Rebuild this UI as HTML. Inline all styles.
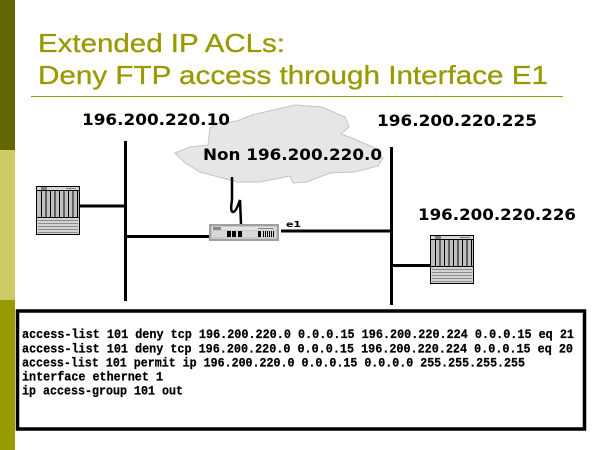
<!DOCTYPE html>
<html>
<head>
<meta charset="utf-8">
<style>
html,body{margin:0;padding:0;background:#fff;}
svg{display:block;}
</style>
</head>
<body>
<svg width="600" height="450" viewBox="0 0 600 450" xmlns="http://www.w3.org/2000/svg">
  <rect x="0" y="0" width="600" height="450" fill="#ffffff"/>
  <!-- sidebar -->
  <rect x="0" y="0" width="15" height="150" fill="#666600"/>
  <rect x="0" y="150" width="15" height="150" fill="#cccc66"/>
  <rect x="0" y="300" width="15" height="150" fill="#999900"/>

  <!-- title -->
  <text x="38" y="52" font-family="Liberation Sans, sans-serif" font-size="26" fill="#999900" stroke="#999900" stroke-width="0.3" textLength="247" lengthAdjust="spacingAndGlyphs">Extended IP ACLs:</text>
  <text x="38" y="84" font-family="Liberation Sans, sans-serif" font-size="26" fill="#999900" stroke="#999900" stroke-width="0.3" textLength="510" lengthAdjust="spacingAndGlyphs">Deny FTP access through Interface E1</text>
  <line x1="31" y1="96.5" x2="563" y2="96.5" stroke="#999900" stroke-width="1"/>

  <!-- cloud -->
  <polygon points="175,153 190,147 208,145 210,128 216,124 237,121 252,115 282,108 295,105 322,107 345,117 349,127 341,134 352,138 375,148 383,158 378,166 355,172 330,173 307,182 293,183 290,176 260,182 237,182 200,172 185,163" fill="#e6e6e6" stroke="#c4c4c4" stroke-width="1"/>

  <!-- labels -->
  <g font-family="DejaVu Sans, sans-serif" font-weight="bold" font-size="16" fill="#000">
    <text x="82" y="125" textLength="148" lengthAdjust="spacingAndGlyphs">196.200.220.10</text>
    <text x="377" y="126" textLength="160" lengthAdjust="spacingAndGlyphs">196.200.220.225</text>
    <text x="203" y="160" textLength="179" lengthAdjust="spacingAndGlyphs">Non 196.200.220.0</text>
    <text x="418" y="220" textLength="158" lengthAdjust="spacingAndGlyphs">196.200.220.226</text>
  </g>

  <!-- buses -->
  <line x1="125.5" y1="141" x2="125.5" y2="301" stroke="#000" stroke-width="3"/>
  <line x1="391.5" y1="147" x2="391.5" y2="305" stroke="#000" stroke-width="3"/>

  <!-- connections -->
  <line x1="80" y1="206" x2="125" y2="206" stroke="#000" stroke-width="3"/>
  <line x1="125" y1="236.5" x2="210" y2="236.5" stroke="#000" stroke-width="3"/>
  <line x1="281" y1="231" x2="391" y2="231" stroke="#000" stroke-width="3"/>
  <line x1="391" y1="265.5" x2="436" y2="265.5" stroke="#000" stroke-width="3"/>

  <!-- squiggle wire -->
  <path d="M232,177 L232,200 Q230,212 233,212 Q236,212 240,200 L241,224" fill="none" stroke="#000" stroke-width="2.5"/>

  <!-- e1 label -->
  <text x="286" y="227" font-family="DejaVu Sans, sans-serif" font-weight="bold" font-size="8" fill="#000" textLength="15" lengthAdjust="spacingAndGlyphs">e1</text>

  <!-- router -->
  <rect x="209" y="224" width="70" height="17" fill="#a0a0a0"/>
  <rect x="211" y="226" width="66" height="13" fill="#c8c8c8"/>
  <rect x="212" y="227" width="64" height="3" fill="#e2e2e2"/>
  <rect x="213" y="227" width="8" height="3" fill="#8a8a8a"/>
  <rect x="258" y="228" width="16" height="1" fill="#808080"/>
  <rect x="212" y="231" width="64" height="6" fill="#d8d8d8"/>
  <rect x="227" y="231" width="4" height="6" fill="#000"/>
  <rect x="232" y="231" width="4" height="6" fill="#000"/>
  <rect x="238" y="231" width="4" height="6" fill="#000"/>
  <rect x="258" y="231" width="3" height="6" fill="#000"/>
  <rect x="263" y="231" width="1" height="6" fill="#000"/>
  <rect x="265" y="231" width="1" height="6" fill="#000"/>
  <rect x="267" y="231" width="1" height="6" fill="#000"/>
  <rect x="269" y="231" width="1" height="6" fill="#000"/>
  <rect x="271" y="231" width="1" height="6" fill="#000"/>
  <rect x="273" y="231" width="1" height="6" fill="#000"/>

  <!-- server template -->
  <defs>
    <g id="srv">
      <rect x="0.5" y="0.5" width="43" height="48" fill="#c0c0c0" stroke="#000" stroke-width="1"/>
      <rect x="1" y="1" width="42" height="3.5" fill="#d6d6d6"/>
      <rect x="5" y="1" width="6" height="3.5" fill="#808080"/>
      <line x1="30" y1="2.5" x2="40" y2="2.5" stroke="#808080" stroke-width="1"/>
      <line x1="0.5" y1="4.5" x2="43.5" y2="4.5" stroke="#000" stroke-width="1"/>
      <g stroke="#000" stroke-width="1">
        <line x1="5.5" y1="4.5" x2="5.5" y2="31"/>
        <line x1="10" y1="4.5" x2="10" y2="31"/>
        <line x1="14.5" y1="4.5" x2="14.5" y2="31"/>
        <line x1="19" y1="4.5" x2="19" y2="31"/>
        <line x1="23.5" y1="4.5" x2="23.5" y2="31"/>
        <line x1="28" y1="4.5" x2="28" y2="31"/>
        <line x1="32.5" y1="4.5" x2="32.5" y2="31"/>
        <line x1="37" y1="4.5" x2="37" y2="31"/>
        <line x1="41.5" y1="4.5" x2="41.5" y2="31"/>
      </g>
      <line x1="0.5" y1="31.5" x2="43.5" y2="31.5" stroke="#000" stroke-width="1"/>
      <rect x="1" y="32" width="42" height="16" fill="#d4d4d4"/>
      <g stroke="#8c8c8c" stroke-width="1">
        <line x1="2" y1="34.5" x2="42" y2="34.5"/>
        <line x1="2" y1="37.5" x2="42" y2="37.5"/>
        <line x1="2" y1="40.5" x2="42" y2="40.5"/>
        <line x1="2" y1="43.5" x2="42" y2="43.5"/>
        <line x1="2" y1="46.5" x2="42" y2="46.5"/>
      </g>
    </g>
  </defs>
  <use href="#srv" x="36" y="186"/>
  <use href="#srv" x="430" y="235"/>

  <!-- code box -->
  <rect x="17.5" y="311" width="567" height="118" fill="#fff" stroke="#000" stroke-width="3.5"/>
  <g font-family="Liberation Mono, monospace" font-weight="bold" font-size="12.5" fill="#000" stroke="#000" stroke-width="0.25">
    <text x="22" y="338" textLength="552" lengthAdjust="spacingAndGlyphs">access-list 101 deny tcp 196.200.220.0 0.0.0.15 196.200.220.224 0.0.0.15 eq 21</text>
    <text x="22" y="352.5" textLength="551" lengthAdjust="spacingAndGlyphs">access-list 101 deny tcp 196.200.220.0 0.0.0.15 196.200.220.224 0.0.0.15 eq 20</text>
    <text x="22" y="366.5" textLength="503" lengthAdjust="spacingAndGlyphs">access-list 101 permit ip 196.200.220.0 0.0.0.15 0.0.0.0 255.255.255.255</text>
    <text x="22" y="380.5" textLength="141" lengthAdjust="spacingAndGlyphs">interface ethernet 1</text>
    <text x="22" y="394.5" textLength="161" lengthAdjust="spacingAndGlyphs">ip access-group 101 out</text>
  </g>
</svg>
</body>
</html>
